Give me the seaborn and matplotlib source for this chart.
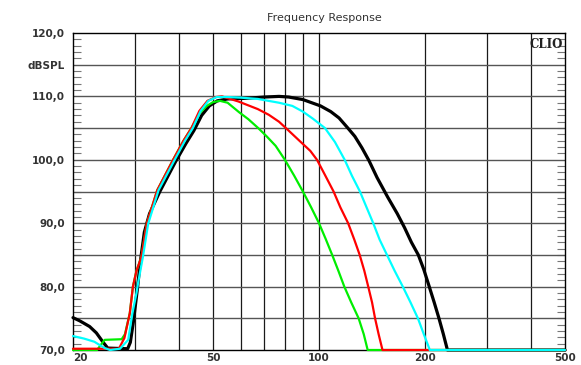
import numpy as np
import pandas as pd
import matplotlib
matplotlib.use("Agg")
import matplotlib.pyplot as plt
from matplotlib.ticker import FixedLocator, NullLocator
import seaborn as sns

# curves (Hz, dB SPL)
black_f = [20, 20.9, 22.3, 23.3, 24.3, 25.1, 28.6, 29.1, 29.7, 30.5, 31.0, 31.9, 33.0, 35.3, 39.2,
           41.9, 44.1, 46.4, 48.8, 51.4, 55, 62, 70, 77, 82, 90, 101, 108, 114, 120.8, 126.4,
           132.4, 138.6, 146.2, 156.8, 166.9, 175, 183, 191.5, 198.5, 205.7, 212.5, 219.2, 225.6,
           231.7, 500]
black_db = [75.1, 74.6, 73.7, 72.7, 71.3, 70.3, 70.2, 71.2, 74.5, 79.8, 83.5, 88.6, 91.5, 95.0, 99.8,
            102.6, 104.6, 107.0, 108.5, 109.3, 109.6, 109.7, 109.9, 110.0, 109.9, 109.5, 108.5, 107.6,
            106.6, 105.0, 103.7, 101.9, 99.9, 97.2, 94.1, 91.5, 89.3, 87.0, 85, 82.7, 80, 77.5, 75,
            72.5, 70, 70]

cyan_f = [20, 21.5, 23, 24.6, 25.5, 27.2, 28.7, 29.5, 30.3, 30.6, 31.6, 32.7, 35.0, 38.9, 41.6, 43.8,
          46.1, 48.5, 51.2, 55, 60, 67, 77, 84, 90, 96, 104, 111, 118.3, 124, 130.7, 136.5, 142.6,
          148.7, 156, 164, 173, 182, 191, 198.5, 206.5, 500]
cyan_db = [72.2, 71.8, 71.3, 70.3, 70, 70.2, 71.6, 75.8, 79, 80.5, 84.7, 89.9, 95.2, 100, 103, 105,
           107.7, 109.3, 109.9, 109.9, 109.8, 109.6, 109.0, 108.5, 107.6, 106.5, 105.0, 102.8, 100,
           97.5, 95, 92.5, 90, 87.4, 85, 82.5, 80, 77.5, 75, 72.5, 70, 70]

red_f = [20, 27, 28.0, 29.0, 29.6, 30.3, 31.3, 32.4, 34.7, 38.5, 41.2, 43.4, 45.7, 48.2, 51, 53,
         59, 67, 72, 77, 82, 88, 94.5, 98.7, 104, 110, 115, 121, 126, 130.5, 134.5, 138, 141.5,
         144.3, 147.7, 151.5, 500]
red_db = [70.2, 70.2, 71.9, 75.8, 80, 82.5, 84.7, 89.9, 95.2, 100, 103, 105, 107.7, 109.3, 109.9, 110.0,
          109.2, 108.0, 107.1, 106.0, 104.6, 103.0, 101.4, 100, 97.6, 95, 92.5, 90, 87.4, 85, 82.5,
          80, 77.5, 75, 72.5, 70, 70]

green_f = [20, 23.4, 24.6, 27.5, 28.1, 29.0, 29.6, 30.3, 31.3, 32.4, 34.7, 38.5, 41.2, 43.4, 45.7,
           48, 50, 52.3, 55, 59.3, 63, 67.2, 71, 75.3, 80, 85, 90, 95, 100, 104.5, 109, 113.5,
           118, 123.5, 129.6, 134, 137.5, 500]
green_db = [70, 70, 71.6, 71.7, 72.5, 75.8, 80, 82.5, 84.7, 89.9, 95.2, 100, 103, 105, 107.3,
            108.5, 109.1, 109.3, 109.0, 107.5, 106.4, 105, 103.7, 102.2, 100, 97.5, 95, 92.5, 90,
            87.5, 85, 82.5, 80, 77.5, 75, 72.5, 70, 70]

ytick_vals = [70, 80, 90, 100, 110, 115, 120]
ytick_text = ["70,0", "80,0", "90,0", "100,0", "110,0", "dBSPL", "120,0"]
xtick_vals = [20, 50, 100, 200, 500]
vgrid = [30, 40, 50, 60, 70, 80, 90, 100, 200, 300, 400]

sns.set_style("white")
plt.rcParams['font.family'] = ['DejaVu Sans']

fig = plt.figure(figsize=(5.81, 3.65), dpi=100)
ax = fig.add_axes([73 / 581, 15 / 365, 492 / 581, 317 / 365])

ax.set_xscale("log")
ax.set_xlim(20, 500)
ax.set_ylim(70, 120)

# grid
for v in vgrid:
    ax.axvline(v, color="#1a1a1a", lw=0.9, zorder=1)
for h in range(75, 120, 5):
    ax.axhline(h, color="#555555", lw=1.0, zorder=1)

curves = [(black_f, black_db, "#000000", 2.3),
          (green_f, green_db, "#00ee00", 1.6),
          (red_f, red_db, "#ff0000", 1.6),
          (cyan_f, cyan_db, "#00ffff", 1.6)]
for f, db, col, lw in curves:
    d = pd.DataFrame({"f": f, "db": db})
    sns.lineplot(data=d, x="f", y="db", color=col, lw=lw, ax=ax, sort=False,
                 estimator=None, clip_on=False, zorder=3)

ax.set_xlabel("")
ax.set_ylabel("")

ax.xaxis.set_major_locator(FixedLocator(xtick_vals))
ax.xaxis.set_minor_locator(NullLocator())
ax.set_xticklabels([str(v) for v in xtick_vals], fontsize=7.5, fontweight="bold", color="#333333")
ax.get_xticklabels()[0].set_ha("left")
ax.tick_params(axis="x", length=0, pad=2)

ax.yaxis.set_major_locator(FixedLocator(ytick_vals))
ax.set_yticklabels(ytick_text, fontsize=7.5, fontweight="bold", color="#333333")
ax.yaxis.set_minor_locator(FixedLocator(np.arange(70, 121, 1)))
ax.tick_params(axis="y", which="major", length=0, pad=6)
ax.tick_params(axis="y", which="minor", direction="in", length=6, width=0.8,
               color="#777777", left=True, right=True)

for s in ax.spines.values():
    s.set_color("black")
    s.set_linewidth(1.0)
    s.set_visible(True)

fig.text(324 / 581, 1 - 18 / 365, "Frequency Response", ha="center", va="center",
         fontsize=8, color="#333333")
ax.text(0.995, 0.985, "CLIO", transform=ax.transAxes, ha="right", va="top",
        fontsize=8.5, fontweight="bold", family="DejaVu Serif", color="#222222")

fig.savefig("out.png", dpi=100)
